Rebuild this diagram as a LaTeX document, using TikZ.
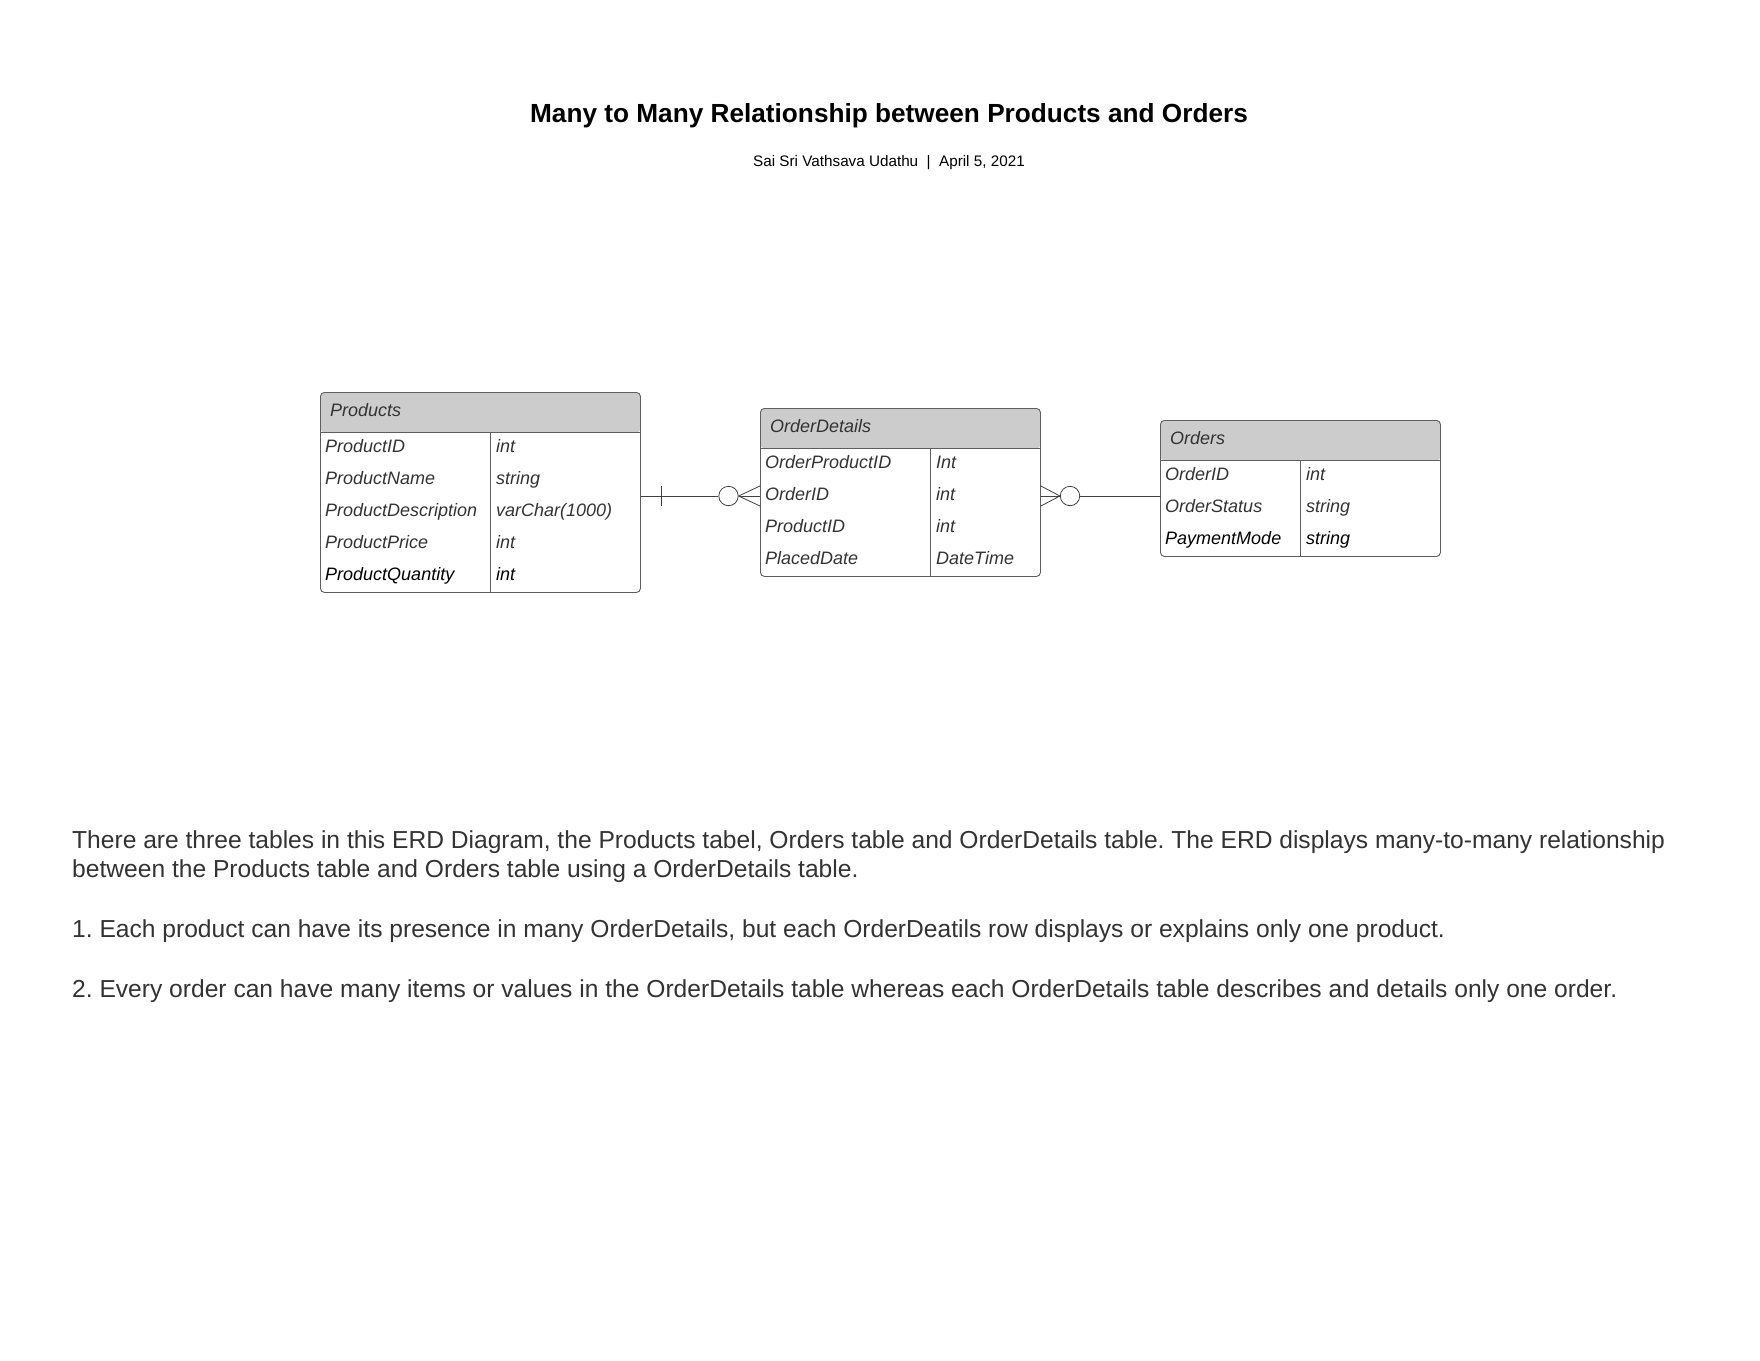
\documentclass[tikz,border=0pt]{standalone}
\usepackage{fontspec}
\setmainfont{Liberation Sans}
\usetikzlibrary{calc}
\definecolor{headgray}{HTML}{CCCCCC}
\definecolor{linegray}{HTML}{5E5E5E}
\definecolor{txtgray}{HTML}{333333}
\frenchspacing
\begin{document}
\begin{tikzpicture}[x=1pt,y=-1pt,
	tablebox/.style={draw=linegray,line width=0.9pt,rounded corners=4pt,anchor=north west,inner sep=0pt,
		path picture={\fill[headgray] (path picture bounding box.north west) rectangle ([yshift=-40pt]path picture bounding box.north east);}},
	rule/.style={draw=linegray,line width=0.9pt},
	field/.style={anchor=base west,inner sep=0pt,text=txtgray,font=\fontsize{18}{21}\selectfont\itshape},
	para/.style={anchor=base west,inner sep=0pt,align=left,text=txtgray,font=\fontsize{24.6}{29}\selectfont},
	link/.style={draw=black!75,line width=0.8pt}]
	\useasboundingbox (0,0) rectangle (1760,1360);
	\node[anchor=base,inner sep=0pt,font=\fontsize{26.2}{30}\selectfont\bfseries] (title) at (889,122) {Many to Many Relationship between Products and Orders};
	\node[anchor=base,inner sep=0pt,font=\fontsize{15.25}{18}\selectfont] (author) at (889,166) {Sai Sri Vathsava Udathu\ \ |\ \ April 5, 2021};
	% tables
	\node[tablebox,minimum width=320pt,minimum height=200pt] (products) at (320,392) {};
	\draw[rule] (320,432) -- (640,432) (490,432) -- (490,592);
	\node[field] (ptitle) at (330,416) {Products};
	\node[field] (pid) at (325,452) {ProductID};
	\node[field] (pidt) at (496,452) {int};
	\node[field] (pname) at (325,484) {ProductName};
	\node[field] (pnamet) at (496,484) {string};
	\node[field] (pdesc) at (325,516) {ProductDescription};
	\node[field] (pdesct) at (496,516) {varChar(1000)};
	\node[field] (pprice) at (325,548) {ProductPrice};
	\node[field] (ppricet) at (496,548) {int};
	\node[field,text=black] (pqty) at (325,580) {ProductQuantity};
	\node[field,text=black] (pqtyt) at (496,580) {int};

	\node[tablebox,minimum width=280pt,minimum height=168pt] (od) at (760,408) {};
	\draw[rule] (760,448) -- (1040,448) (930,448) -- (930,576);
	\node[field] (odtitle) at (770,432) {OrderDetails};
	\node[field] (odid) at (765,468) {OrderProductID};
	\node[field] (odidt) at (936,468) {Int};
	\node[field] (odorder) at (765,500) {OrderID};
	\node[field] (odordert) at (936,500) {int};
	\node[field] (odprod) at (765,532) {ProductID};
	\node[field] (odprodt) at (936,532) {int};
	\node[field] (oddate) at (765,564) {PlacedDate};
	\node[field] (oddatet) at (936,564) {DateTime};

	\node[tablebox,minimum width=280pt,minimum height=136pt] (orders) at (1160,420) {};
	\draw[rule] (1160,460) -- (1440,460) (1300,460) -- (1300,556);
	\node[field] (otitle) at (1170,444) {Orders};
	\node[field] (oid) at (1165,480) {OrderID};
	\node[field] (oidt) at (1306,480) {int};
	\node[field] (ostatus) at (1165,512) {OrderStatus};
	\node[field] (ostatust) at (1306,512) {string};
	\node[field,text=black] (opay) at (1165,544) {PaymentMode};
	\node[field,text=black] (opayt) at (1306,544) {string};
	% relationships
	\node[circle,link,minimum size=19.4pt,inner sep=0pt] (c1) at (728.5,496) {};
	\node[circle,link,minimum size=19.4pt,inner sep=0pt] (c2) at (1070,496) {};
	\draw[link] (products.east |- c1) -- (c1.west);
	\draw[link] ($(products.east |- c1)+(20,-10)$) -- ++(0,20);
	\draw[link] (c1.east) -- ($(od.west |- c1)+(0,-10)$);
	\draw[link] (c1.east) -- (od.west |- c1);
	\draw[link] (c1.east) -- ($(od.west |- c1)+(0,10)$);
	\draw[link] (c2.west) -- ($(od.east |- c2)+(0,-10)$);
	\draw[link] (c2.west) -- (od.east |- c2);
	\draw[link] (c2.west) -- ($(od.east |- c2)+(0,10)$);
	\draw[link] (c2.east) -- (orders.west |- c2);
	% notes
	\node[para] (note) at (72,877) {There are three tables in this ERD Diagram, the Products tabel, Orders table and OrderDetails table. The ERD displays many-to-many relationship\\between the Products table and Orders table using a OrderDetails table.};
	\node[para] (noteone) at (72,937.5) {1. Each product can have its presence in many OrderDetails, but each OrderDeatils row displays or explains only one product.};
	\node[para] (notetwo) at (72,997) {2. Every order can have many items or values in the OrderDetails table whereas each OrderDetails table describes and details only one order.};
\end{tikzpicture}
\end{document}
